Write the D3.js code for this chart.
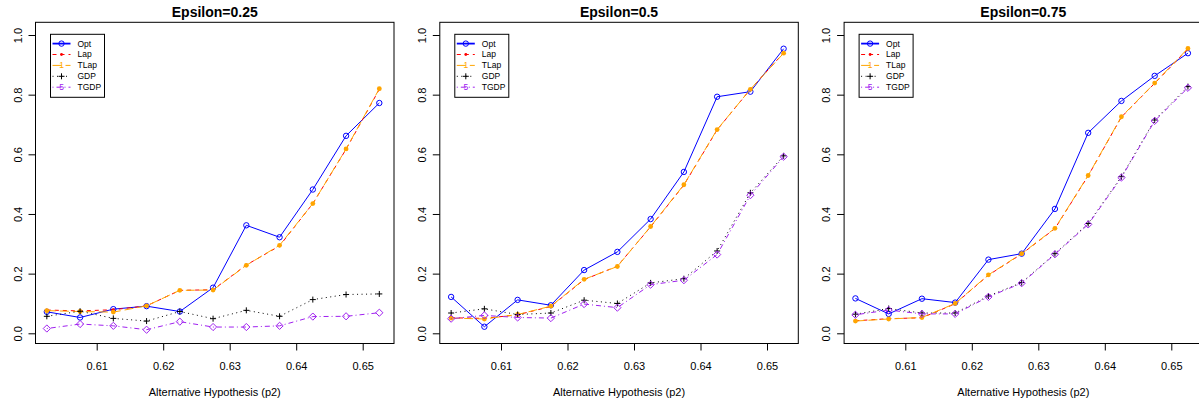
<!DOCTYPE html>
<html>
<head>
<meta charset="utf-8">
<script src="https://cdn.jsdelivr.net/npm/d3@7/dist/d3.min.js"></script>
<style>
  body { margin: 0; background: #fff; }
  svg { display: block; font-family: "Liberation Sans", Arial, sans-serif; }
</style>
</head>
<body>
<div id="chart"></div>
<script>
  var pValues = [0.6025, 0.6075, 0.6125, 0.6175, 0.6225, 0.6275, 0.6325, 0.6375, 0.6425, 0.6475, 0.6525];
  var xTicks = [0.61, 0.62, 0.63, 0.64, 0.65];
  var yTicks = [0, 0.2, 0.4, 0.6, 0.8, 1.0];
  var epsilons = ["0.25", "0.5", "0.75"];
  var seriesNames = ["Opt", "Lap", "TLap", "GDP", "TGDP"];

  // Epsilon = 0.25
  var optEps025 = [0.072, 0.053, 0.081, 0.091, 0.073, 0.153, 0.362, 0.322, 0.482, 0.662, 0.772];
  var lapEps025 = [0.078, 0.075, 0.079, 0.092, 0.144, 0.146, 0.229, 0.293, 0.435, 0.617, 0.818];
  var tlapEps025 = [0.076, 0.073, 0.071, 0.092, 0.144, 0.145, 0.228, 0.295, 0.435, 0.618, 0.820];
  var gdpEps025 = [0.057, 0.074, 0.050, 0.041, 0.073, 0.049, 0.077, 0.057, 0.113, 0.130, 0.132];
  var tgdpEps025 = [0.016, 0.031, 0.025, 0.012, 0.039, 0.021, 0.021, 0.025, 0.056, 0.057, 0.069];

  // Epsilon = 0.5
  var optEps05 = [0.122, 0.022, 0.112, 0.094, 0.212, 0.273, 0.383, 0.541, 0.793, 0.810, 0.954];
  var lapEps05 = [0.052, 0.050, 0.062, 0.090, 0.180, 0.225, 0.357, 0.497, 0.682, 0.818, 0.940];
  var tlapEps05 = [0.051, 0.048, 0.063, 0.091, 0.181, 0.224, 0.358, 0.498, 0.683, 0.818, 0.939];
  var gdpEps05 = [0.068, 0.082, 0.063, 0.068, 0.111, 0.100, 0.169, 0.183, 0.276, 0.471, 0.595];
  var tgdpEps05 = [0.049, 0.060, 0.053, 0.051, 0.098, 0.086, 0.163, 0.178, 0.264, 0.463, 0.592];

  // Epsilon = 0.75
  var optEps075 = [0.117, 0.065, 0.116, 0.103, 0.247, 0.267, 0.417, 0.672, 0.779, 0.863, 0.939];
  var lapEps075 = [0.042, 0.049, 0.052, 0.099, 0.195, 0.266, 0.351, 0.528, 0.725, 0.838, 0.953];
  var tlapEps075 = [0.041, 0.048, 0.053, 0.100, 0.196, 0.267, 0.352, 0.529, 0.726, 0.839, 0.955];
  var gdpEps075 = [0.064, 0.083, 0.068, 0.068, 0.125, 0.170, 0.267, 0.368, 0.525, 0.715, 0.827];
  var tgdpEps075 = [0.062, 0.078, 0.065, 0.065, 0.122, 0.168, 0.265, 0.365, 0.522, 0.712, 0.823];

  var panelSeries = [
    [optEps025, lapEps025, tlapEps025, gdpEps025, tgdpEps025],
    [optEps05, lapEps05, tlapEps05, gdpEps05, tgdpEps05],
    [optEps075, lapEps075, tlapEps075, gdpEps075, tgdpEps075]
  ];

  var styles = [
    { color: "#0000ff", dash: null, mark: "circle", legendMark: "circle", legendWidth: 1.8 },
    { color: "#ff0000", dash: "4,4", mark: "dot", legendMark: "dot", legendWidth: 1 },
    { color: "#ffa500", dash: "9,4", mark: "disc", legendMark: "1", legendWidth: 1 },
    { color: "#000000", dash: "1,3.5", mark: "plus", legendMark: "plus", legendWidth: 1 },
    { color: "#a020f0", dash: "1,3,5,3", mark: "diamond", legendMark: "5", legendWidth: 1 }
  ];

  var width = 1199, height = 404;
  var boxTop = 22.3, boxBottom = 343.5, boxWidth = 358.5, panelStep = 404.3, firstLeft = 35.5;

  var svg = d3.select("#chart").append("svg")
    .attr("width", width)
    .attr("height", height);
  svg.append("rect").attr("width", width).attr("height", height).attr("fill", "#fff");

  function drawMark(g, kind, cx, cy, color) {
    if (kind === "circle") {
      g.append("circle").attr("cx", cx).attr("cy", cy).attr("r", 2.7)
        .attr("fill", "none").attr("stroke", color).attr("stroke-width", 1);
    } else if (kind === "dot") {
      g.append("circle").attr("cx", cx).attr("cy", cy).attr("r", 1.4).attr("fill", color);
    } else if (kind === "disc") {
      g.append("circle").attr("cx", cx).attr("cy", cy).attr("r", 2.4).attr("fill", color);
    } else if (kind === "plus") {
      g.append("path").attr("d", "M" + (cx - 3) + "," + cy + "H" + (cx + 3) + "M" + cx + "," + (cy - 3) + "V" + (cy + 3))
        .attr("stroke", color).attr("stroke-width", 1).attr("fill", "none");
    } else if (kind === "diamond") {
      g.append("path").attr("d", "M" + cx + "," + (cy - 3.6) + "L" + (cx + 3.6) + "," + cy + "L" + cx + "," + (cy + 3.6) + "L" + (cx - 3.6) + "," + cy + "Z")
        .attr("stroke", color).attr("stroke-width", 1).attr("fill", "none");
    } else {
      g.append("text").attr("x", cx).attr("y", cy + 3).attr("text-anchor", "middle")
        .attr("font-size", "8.5px").attr("fill", color).text(kind);
    }
  }

  epsilons.forEach(function (eps, i) {
    var left = firstLeft + i * panelStep;
    var x = d3.scaleLinear().domain([0.61, 0.65]).range([left + 61.2, left + 327.2]);
    var y = d3.scaleLinear().domain([0, 1]).range([333.3, 35]);
    var g = svg.append("g");

    g.append("text")
      .attr("x", left + boxWidth / 2)
      .attr("y", 17)
      .attr("text-anchor", "middle")
      .attr("font-size", "14px")
      .attr("font-weight", "bold")
      .text("Epsilon=" + eps);

    // axes
    var xAxis = g.append("g").attr("transform", "translate(0," + boxBottom + ")")
      .call(d3.axisBottom(x).tickValues(xTicks).tickSize(7).tickPadding(12).tickFormat(d3.format(".2f")));
    var yAxis = g.append("g").attr("transform", "translate(" + left + ",0)")
      .call(d3.axisLeft(y).tickValues(yTicks).tickSize(7).tickFormat(d3.format(".1f")));
    [xAxis, yAxis].forEach(function (a) {
      a.select(".domain").remove();
      a.selectAll("line").attr("stroke", "#000");
      a.selectAll("text").attr("font-size", "11px").attr("fill", "#000")
        .attr("font-family", "'Liberation Sans', Arial, sans-serif");
    });
    yAxis.selectAll("text")
      .attr("x", null).attr("dy", null).attr("text-anchor", "middle")
      .attr("transform", "translate(-14,0) rotate(-90)");

    g.append("text")
      .attr("x", left + boxWidth / 2)
      .attr("y", 396)
      .attr("text-anchor", "middle")
      .attr("font-size", "11px")
      .text("Alternative Hypothesis (p2)");

    var line = d3.line()
      .x(function (d, k) { return x(pValues[k]); })
      .y(function (d) { return y(d); });

    panelSeries[i].forEach(function (vals, s) {
      var st = styles[s];
      g.append("path")
        .attr("d", line(vals))
        .attr("fill", "none")
        .attr("stroke", st.color)
        .attr("stroke-width", 1)
        .attr("stroke-dasharray", st.dash);
      vals.forEach(function (v, k) {
        drawMark(g, st.mark, x(pValues[k]), y(v), st.color);
      });
    });

    g.append("rect")
      .attr("x", left).attr("y", boxTop)
      .attr("width", boxWidth).attr("height", boxBottom - boxTop)
      .attr("fill", "none").attr("stroke", "#000").attr("stroke-width", 1);

    // legend
    var lg = g.append("g").attr("transform", "translate(" + (left + 15) + "," + (boxTop + 12) + ")");
    lg.append("rect").attr("width", 54).attr("height", 63)
      .attr("fill", "#fff").attr("stroke", "#000").attr("stroke-width", 1);
    seriesNames.forEach(function (name, s) {
      var st = styles[s];
      var ly = 9.3 + s * 10.9;
      lg.append("line").attr("x1", 2).attr("x2", 20).attr("y1", ly).attr("y2", ly)
        .attr("stroke", st.color).attr("stroke-width", st.legendWidth).attr("stroke-dasharray", st.dash);
      drawMark(lg, st.legendMark, 11, ly, st.color);
      lg.append("text").attr("x", 27).attr("y", ly + 3).attr("font-size", "8.5px").text(name);
    });
  });
</script>
</body>
</html>
